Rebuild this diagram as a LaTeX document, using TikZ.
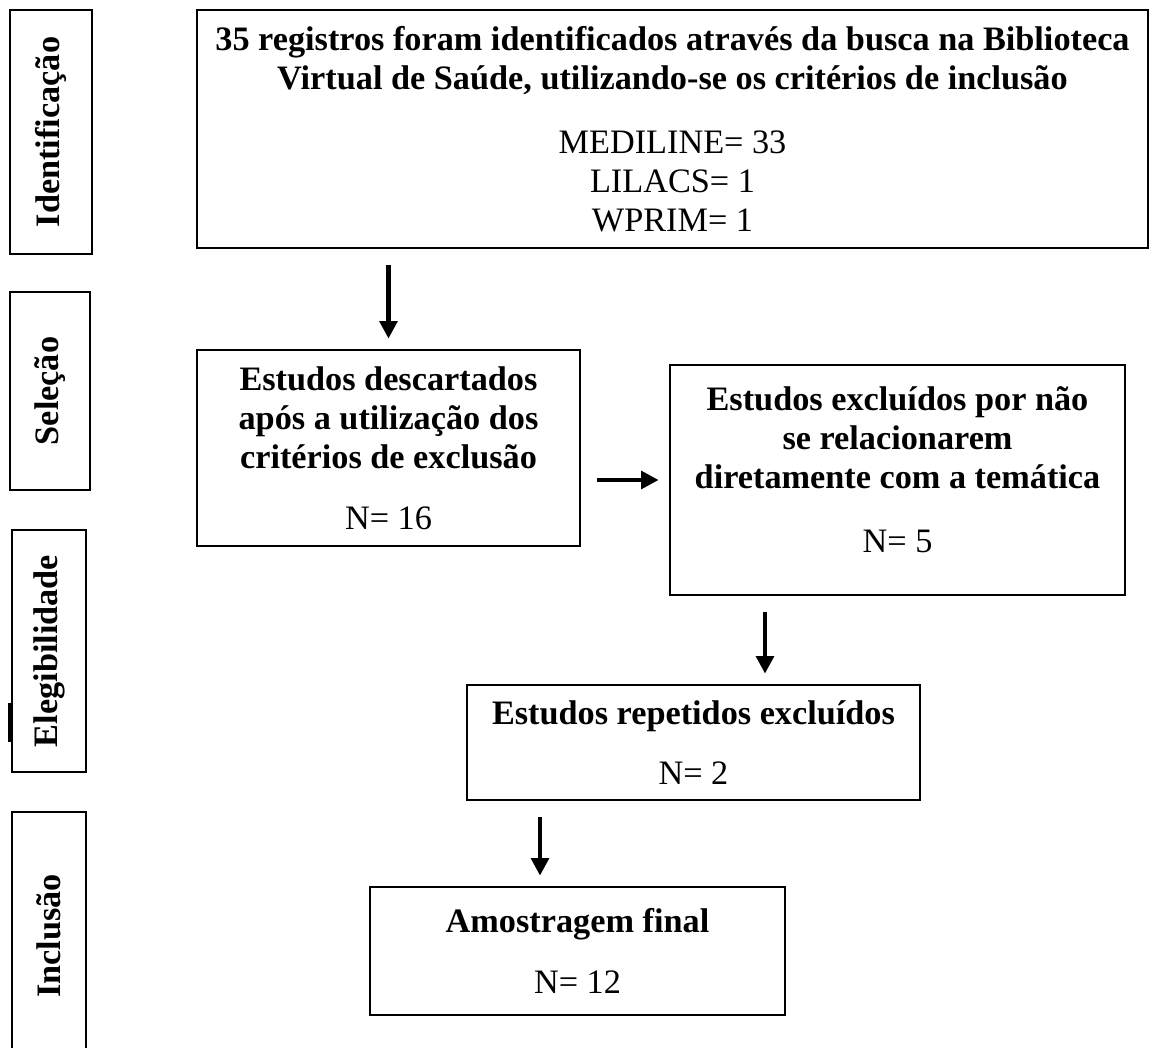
\documentclass[tikz,border=0pt]{standalone}
\usepackage{fontspec}
\setmainfont{Liberation Serif}
\usetikzlibrary{arrows.meta}

\begin{document}
\begin{tikzpicture}[x=0.02cm,y=-0.02cm,
    box/.style={draw,line width=1pt,inner sep=0pt,align=center,font=\fontsize{19.5}{22.3}\selectfont},
    side/.style={box,rotate=90,font=\fontsize{19.5}{22.3}\selectfont\bfseries},
    flow/.style={line width=2.4pt,-{Triangle[length=10pt,width=10pt]},shorten <=9pt,shorten >=6pt}]
  \useasboundingbox (0,0) rectangle (1160,1048);
  % phases on the left
  \node[side,minimum width=4.88cm,minimum height=1.64cm] (sI) at (51,132) {Identificação};
  \node[side,minimum width=3.96cm,minimum height=1.6cm] (sS) at (50,391) {Seleção};
  \node[side,minimum width=4.84cm,minimum height=1.48cm] (sE) at (49,651) {Elegibilidade};
  \node[side,minimum width=4.96cm,minimum height=1.48cm] (sC) at (49,936) {Inclusão};
  \draw[line width=2pt] (sE.center) ++(-39,52) -- ++(0,39);
  % flow boxes
  \node[box,minimum width=19.02cm,minimum height=4.76cm] (ident) at (672.5,129)
    {\textbf{35 registros foram identificados através da busca na Biblioteca}\\
     \textbf{Virtual de Saúde, utilizando-se os critérios de inclusão}\\[14pt]
     MEDILINE= 33\\ LILACS= 1\\ WPRIM= 1};
  \node[box,minimum width=7.66cm,minimum height=3.92cm] (desc) at (388.5,448)
    {\textbf{Estudos descartados}\\ \textbf{após a utilização dos}\\
     \textbf{critérios de exclusão}\\[12pt] N= 16};
  \node[box,minimum width=9.1cm,minimum height=4.6cm] (excl) at (897.5,480)
    {\textbf{Estudos excluídos por não}\\ \textbf{se relacionarem}\\
     \textbf{diretamente com a temática}\\[14pt] N= 5\\[-10pt]\mbox{}};
  \node[box,minimum width=9.06cm,minimum height=2.3cm] (rep) at (693.5,742.5)
    {\textbf{Estudos repetidos excluídos}\\[12pt] N= 2};
  \node[box,minimum width=8.3cm,minimum height=2.56cm] (amos) at (577.5,951)
    {\textbf{Amostragem final}\\[12pt] N= 12};
  \coordinate (c3) at (765,0);
  \coordinate (c4) at (540,0);
  \draw[flow] (desc.north |- ident.south) -- (desc.north);
  \draw[flow] (desc.east |- excl.west) -- (excl.west);
  \draw[flow] (excl.south -| c3) -- (rep.north -| c3);
  \draw[flow] (rep.south -| c4) -- (amos.north -| c4);
\end{tikzpicture}
\end{document}
